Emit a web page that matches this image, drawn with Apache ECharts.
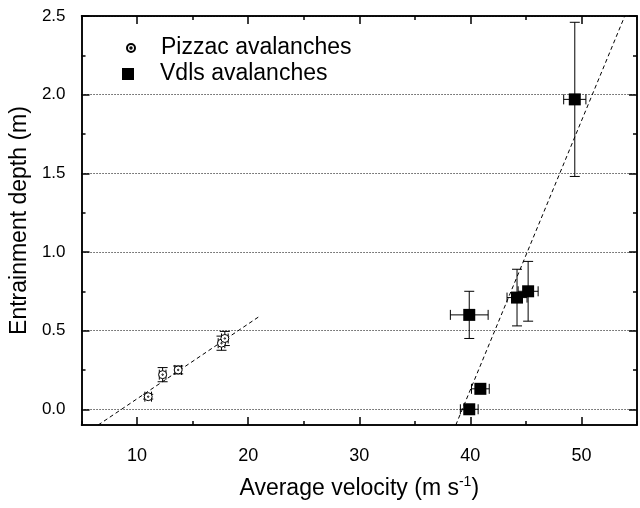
<!DOCTYPE html>
<html><head><meta charset="utf-8">
<script src="https://cdn.jsdelivr.net/npm/echarts@6/dist/echarts.min.js"></script>
<style>html,body{margin:0;padding:0;background:#fff}#c{width:640px;height:508px}</style>
</head><body><div id="c"></div>
<script>
// ---- data ----
const pizzacX = [11.0, 12.3, 13.7, 17.6, 17.9];
const pizzacY = [0.08, 0.22, 0.25, 0.42, 0.45];
const pizzacXErr = [0.3, 0.3, 0.3, 0.3, 0.3];
const pizzacYErr = [0.015, 0.045, 0.025, 0.045, 0.045];

const vdlsX = [39.9, 40.9, 39.9, 44.2, 45.2, 49.4];
const vdlsY = [0.0, 0.13, 0.60, 0.71, 0.75, 1.97];
const vdlsXErr = [0.8, 0.8, 1.7, 0.9, 0.9, 1.0];
const vdlsYErr = [0.0, 0.03, 0.15, 0.18, 0.19, 0.49];

const pizzacFitX = [6.5, 21.0];
const pizzacFitY = [-0.1, 0.59];
const vdlsFitX = [38.69, 53.9];
const vdlsFitY = [-0.1, 2.5];

const xMajorTicks = [10, 20, 30, 40, 50];
const xMinorTicks = [5, 15, 25, 35, 45, 55];
const xLabelValues = [10, 20, 30, 40, 50];
const yMajorTicks = [0, 0.5, 1.0, 1.5, 2.0, 2.5];
const yMinorTicks = [0.25, 0.75, 1.25, 1.75, 2.25];

const seriesNames = ['Pizzac avalanches', 'Vdls avalanches'];

// ---- build ----
const zip = (a, b) => a.map((v, i) => [v, b[i]]);
const zip4 = (a, b, c, d) => a.map((v, i) => [v, b[i], c[i], d[i]]);
const FONT = 'Liberation Sans, Arial, sans-serif';
const X_MIN = 5, X_MAX = 55, Y_MIN = -0.1, Y_MAX = 2.5;
const RING = 'path://M0,5A5,5 0 1 1 10,5A5,5 0 1 1 0,5ZM4.1,5A0.9,0.9 0 1 1 5.9,5A0.9,0.9 0 1 1 4.1,5Z';
const SQUARE = 'path://M0,0L10,0L10,10L0,10Z';

function errRender(params, api) {
  const x = api.value(0), y = api.value(1), xe = api.value(2), ye = api.value(3);
  const c = api.coord([x, y]);
  const st = { stroke: '#000', lineWidth: 1 };
  const cap = 5;
  const ch = [];
  if (ye > 0) {
    const t = api.coord([x, y + ye]), b = api.coord([x, y - ye]);
    ch.push({ type: 'line', shape: { x1: c[0], y1: t[1], x2: c[0], y2: b[1] }, style: st });
    ch.push({ type: 'line', shape: { x1: c[0] - cap, y1: t[1], x2: c[0] + cap, y2: t[1] }, style: st });
    ch.push({ type: 'line', shape: { x1: c[0] - cap, y1: b[1], x2: c[0] + cap, y2: b[1] }, style: st });
  }
  if (xe > 0) {
    const l = api.coord([x - xe, y]), r = api.coord([x + xe, y]);
    ch.push({ type: 'line', shape: { x1: l[0], y1: c[1], x2: r[0], y2: c[1] }, style: st });
    ch.push({ type: 'line', shape: { x1: l[0], y1: c[1] - cap, x2: l[0], y2: c[1] + cap }, style: st });
    ch.push({ type: 'line', shape: { x1: r[0], y1: c[1] - cap, x2: r[0], y2: c[1] + cap }, style: st });
  }
  return { type: 'group', children: ch };
}

const axisLineStyle = { color: '#000', width: 1.5 };
function xAxisDef(pos, ticks, len, labels, extra) {
  return Object.assign({
    type: 'value', position: pos, min: X_MIN, max: X_MAX, gridIndex: 0,
    axisLine: { show: true, onZero: false, lineStyle: axisLineStyle },
    axisTick: { show: true, inside: true, length: len, customValues: ticks, lineStyle: { color: '#000', width: 1.5 } },
    axisLabel: labels ? { show: true, customValues: xLabelValues, color: '#000', fontSize: 18, fontFamily: FONT, margin: 22 } : { show: false },
    splitLine: { show: false }
  }, extra || {});
}
function yAxisDef(pos, ticks, len, labels, extra) {
  return Object.assign({
    type: 'value', position: pos, min: Y_MIN, max: Y_MAX, gridIndex: 0,
    axisLine: { show: true, onZero: false, lineStyle: axisLineStyle },
    axisTick: { show: true, inside: true, length: len, customValues: ticks, lineStyle: { color: '#000', width: 1.5 } },
    axisLabel: labels ? { show: true, customValues: yMajorTicks, color: '#000', fontSize: 17, fontFamily: FONT, margin: 16,
      formatter: v => v.toFixed(1) } : { show: false },
    splitLine: { show: false }
  }, extra || {});
}

const legendText = { color: '#000', fontSize: 23, fontFamily: FONT, lineHeight: 26, padding: [0, 0, 0, 21] };
const option = {
  backgroundColor: '#fff',
  animation: false,
  grid: { left: 78, right: 3, top: 16, bottom: 75, containLabel: false },
  legend: [
    { data: [{ name: seriesNames[0], icon: RING }], orient: 'vertical', left: 126, top: 35, padding: 0,
      itemWidth: 8, itemHeight: 8, symbolKeepAspect: true, textStyle: legendText },
    { data: [{ name: seriesNames[1], icon: SQUARE }], orient: 'vertical', left: 122, top: 61, padding: 0,
      itemWidth: 12, itemHeight: 12, symbolKeepAspect: true, textStyle: legendText }
  ],
  xAxis: [
    xAxisDef('bottom', xMajorTicks, 8, true, {
      name: 'Average velocity (m s{sup|-1})', nameLocation: 'middle', nameGap: 50,
      nameTextStyle: { color: '#000', fontSize: 23, fontFamily: FONT, lineHeight: 28,
        rich: { sup: { fontSize: 14, fontFamily: FONT, color: '#000', verticalAlign: 'top', lineHeight: 28, padding: [0, 0, 10, 0] } } }
    }),
    xAxisDef('bottom', xMinorTicks, 4, false),
    xAxisDef('top', xMajorTicks, 8, false),
    xAxisDef('top', xMinorTicks, 4, false)
  ],
  yAxis: [
    yAxisDef('left', yMajorTicks, 8, true, {
      name: 'Entrainment depth (m)', nameLocation: 'middle', nameGap: 46, nameRotate: 90,
      nameTextStyle: { color: '#000', fontSize: 23, fontFamily: FONT },
      splitLine: { show: true, lineStyle: { color: '#000', width: 1, type: [1, 2] } }
    }),
    yAxisDef('left', yMinorTicks, 4, false),
    yAxisDef('right', yMajorTicks, 8, false),
    yAxisDef('right', yMinorTicks, 4, false)
  ],
  series: [
    { name: 'pizzacFit', type: 'line', data: zip(pizzacFitX, pizzacFitY), showSymbol: false, symbol: 'none', silent: true,
      lineStyle: { color: '#000', width: 1, type: [4, 3] }, z: 2 },
    { name: 'vdlsFit', type: 'line', data: zip(vdlsFitX, vdlsFitY), showSymbol: false, symbol: 'none', silent: true,
      lineStyle: { color: '#000', width: 1, type: [4, 3] }, z: 2 },
    { name: 'pizzacErr', type: 'custom', renderItem: errRender, data: zip4(pizzacX, pizzacY, pizzacXErr, pizzacYErr), z: 3, silent: true },
    { name: 'vdlsErr', type: 'custom', renderItem: errRender, data: zip4(vdlsX, vdlsY, vdlsXErr, vdlsYErr), z: 3, silent: true },
    { name: seriesNames[0], type: 'scatter', data: zip(pizzacX, pizzacY), symbol: RING, symbolSize: 8, symbolKeepAspect: true,
      itemStyle: { color: '#fff', borderColor: '#000', borderWidth: 1, opacity: 1 }, z: 4 },
    { name: seriesNames[1], type: 'scatter', data: zip(vdlsX, vdlsY), symbol: SQUARE, symbolSize: 12, symbolKeepAspect: true,
      itemStyle: { color: '#000', opacity: 1 }, z: 4 }
  ]
};
const chart = echarts.init(document.getElementById('c'), null, { renderer: 'canvas' });
chart.setOption(option);
</script></body></html>
